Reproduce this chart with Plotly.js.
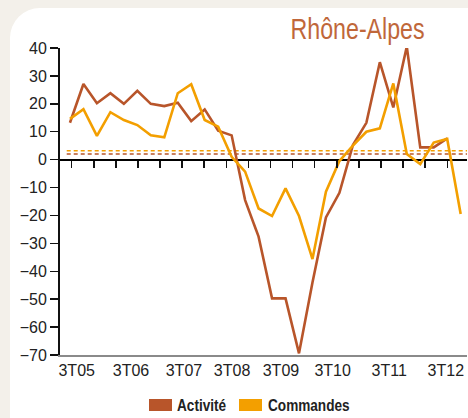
<!DOCTYPE html>
<html>
<head>
<meta charset="utf-8">
<script src="https://cdn.plot.ly/plotly-3.0.1.min.js"></script>
<style>
  html, body { margin: 0; padding: 0; width: 468px; height: 418px; overflow: hidden; background: #f3f0ea; }
  #panel { position: absolute; left: 10px; top: 8px; width: 520px; height: 470px; background: #ffffff; border-radius: 30px; }
  #chart { position: absolute; left: 0; top: 0; width: 468px; height: 418px; }
</style>
</head>
<body>
<div id="panel"></div>
<div id="chart"></div>
<script>
// ---- data ----
const quarters = ["3T05","4T05","1T06","2T06","3T06","4T06","1T07","2T07","3T07","4T07",
                  "1T08","2T08","3T08","4T08","1T09","2T09","3T09","4T09","1T10","2T10",
                  "3T10","4T10","1T11","2T11","3T11","4T11","1T12","2T12","3T12","4T12"];
const activite = [13.2, 27.1, 20.2, 23.8, 20.0, 24.7, 20.0, 19.2, 20.4, 13.8,
                  18.0, 10.4, 8.7, -14.5, -27.6, -49.7, -49.7, -69.4, -44.0, -20.7,
                  -11.9, 5.2, 13.2, 34.9, 18.7, 40.5, 4.4, 4.4, 7.6];
const commandes = [14.6, 18.1, 8.5, 17.0, 14.2, 12.4, 8.7, 8.0, 23.8, 27.0,
                   14.2, 11.8, 1.0, -4.3, -17.5, -20.2, -10.3, -20.2, -35.6, -11.5,
                   -0.5, 5.0, 10.0, 11.2, 27.3, 2.0, -1.6, 6.1, 7.4, -19.5];
const moyenneActivite = 2.0;
const moyenneCommandes = 3.2;
const yearLabels = ["3T05","3T06","3T07","3T08","3T09","3T10","3T11","3T12"];
const seriesNames = ["Activité", "Commandes"];
const titleText = "Rhône-Alpes";

// ---- styles / layout config ----
const brown = "#b8552a";
const orange = "#f39f00";
const labelPos = [0.5, 4.53, 8.46, 12.03, 15.66, 19.5, 23.7, 27.9];
const xRange = [-0.74, 29.47];

const idxA = activite.map((_, i) => i);
const idxC = commandes.map((_, i) => i);

const traces = [
  { x: idxA, y: activite, type: "scatter", mode: "lines", name: seriesNames[0],
    text: quarters.slice(0, activite.length), hovertemplate: "%{text}: %{y}<extra></extra>",
    line: { color: brown, width: 2.6 }, showlegend: false },
  { x: idxC, y: commandes, type: "scatter", mode: "lines", name: seriesNames[1],
    text: quarters.slice(0, commandes.length), hovertemplate: "%{text}: %{y}<extra></extra>",
    line: { color: orange, width: 2.6 }, showlegend: false },
  { x: [], y: [], xaxis: "x2", type: "scatter", mode: "lines", showlegend: false, hoverinfo: "skip" }
];

const fontMain = "'Liberation Sans', Arial, sans-serif";

const layout = {
  width: 468, height: 418,
  margin: { l: 60, r: 1, t: 48, b: 63, pad: 0 },
  paper_bgcolor: "rgba(0,0,0,0)",
  plot_bgcolor: "rgba(0,0,0,0)",
  showlegend: false,
  font: { family: fontMain, size: 16, color: "#222" },
  xaxis: {
    type: "linear", range: xRange, showgrid: false, zeroline: false,
    showline: true, linecolor: "#8a8a8a", linewidth: 1.5,
    ticks: "", tickmode: "array", tickvals: labelPos, ticktext: yearLabels,
    tickfont: { family: fontMain, size: 16, color: "#222" },
    ticklabelstandoff: 0, fixedrange: true
  },
  xaxis2: {
    type: "linear", range: xRange, overlaying: "x", anchor: "free", position: 70 / 110,
    showgrid: false, zeroline: false, showline: false, showticklabels: false,
    ticks: "outside", ticklen: 7, tickwidth: 1.5, tickcolor: "#111",
    tickmode: "linear", tick0: 0.126, dtick: 1.64, fixedrange: true
  },
  yaxis: {
    range: [-70, 40], dtick: 10, tick0: 0, showgrid: false,
    zeroline: true, zerolinecolor: "#000", zerolinewidth: 2.2,
    showline: true, linecolor: "#111", linewidth: 2,
    ticks: "outside", ticklen: 8, tickwidth: 1.5, tickcolor: "#111",
    tickfont: { family: fontMain, size: 16, color: "#222" }, fixedrange: true
  },
  shapes: [
    { type: "line", xref: "paper", yref: "y", x0: 0.0165, x1: 1, y0: moyenneCommandes, y1: moyenneCommandes,
      line: { color: orange, width: 1.6, dash: "4px,3px" }, layer: "below" },
    { type: "line", xref: "paper", yref: "y", x0: 0.0165, x1: 1, y0: moyenneActivite, y1: moyenneActivite,
      line: { color: brown, width: 1.6, dash: "4px,3px" }, layer: "below" },
    { type: "rect", xref: "paper", yref: "paper", x0: (149 - 60) / 407, x1: (172 - 60) / 407,
      y0: (355 - 399) / 307, y1: (355 - 411) / 307, fillcolor: brown, line: { width: 0 } },
    { type: "rect", xref: "paper", yref: "paper", x0: (239 - 60) / 407, x1: (262 - 60) / 407,
      y0: (355 - 399) / 307, y1: (355 - 411) / 307, fillcolor: orange, line: { width: 0 } }
  ],
  annotations: [
    { text: titleText, xref: "paper", yref: "paper", x: (427 - 60) / 407, y: (355 - 29) / 307,
      xanchor: "right", yanchor: "middle", showarrow: false,
      font: { family: fontMain, size: 29, color: "#c0673a" } },
    { text: "<b>" + seriesNames[0] + "</b>", xref: "paper", yref: "paper", x: (175 - 60) / 407, y: (355 - 405) / 307,
      xanchor: "left", yanchor: "middle", showarrow: false,
      font: { family: fontMain, size: 17, color: "#222" } },
    { text: "<b>" + seriesNames[1] + "</b>", xref: "paper", yref: "paper", x: (266 - 60) / 407, y: (355 - 405) / 307,
      xanchor: "left", yanchor: "middle", showarrow: false,
      font: { family: fontMain, size: 17, color: "#222" } }
  ]
};

// condensed look: horizontally compress annotation texts around their anchor
const condense = [{ scale: 0.8, anchor: "right" }, { scale: 0.8, anchor: "left" }, { scale: 0.8, anchor: "left" }];

Plotly.newPlot("chart", traces, layout, { displayModeBar: false, staticPlot: true }).then(gd => {
  const texts = gd.querySelectorAll(".annotation-text");
  texts.forEach((el, i) => {
    const c = condense[i];
    if (!c) return;
    const bb = el.getBBox();
    const ax = c.anchor === "right" ? bb.x + bb.width : bb.x;
    el.setAttribute("transform", `translate(${ax},0) scale(${c.scale},1) translate(${-ax},0)`);
  });
});
</script>
</body>
</html>
